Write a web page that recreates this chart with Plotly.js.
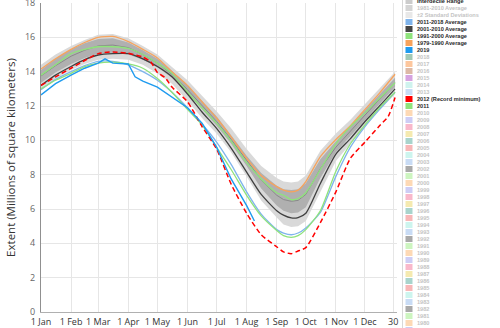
<!DOCTYPE html>
<html><head><meta charset="utf-8">
<script src="https://cdn.plot.ly/plotly-3.0.1.min.js"></script>
<style>html,body{margin:0;padding:0;background:#fff}#chart{width:500px;height:328px}</style>
</head><body><div id="chart"></div>
<script>
// Day of year sample points
const days = [0,15,31,45,59,74,90,105,120,135,151,166,181,196,212,227,243,250,258,265,273,288,304,319,334,349,365];
// Gray bands (1981-2010)
const idrHigh = [14.4,15.0,15.5,15.85,16.15,16.2,15.95,15.5,15.0,14.3,13.5,12.6,11.7,10.7,9.5,8.5,7.8,7.6,7.55,7.6,7.95,9.4,10.4,11.2,12.1,13.0,14.0];
const idrLow  = [13.0,13.6,14.1,14.45,14.7,14.75,14.7,14.4,13.9,13.3,12.3,11.3,10.4,9.3,7.9,6.5,5.5,5.1,4.95,5.0,5.3,7.0,8.8,9.8,10.8,11.75,12.7];
const iqrHigh = [14.1,14.75,15.3,15.65,15.9,15.95,15.7,15.25,14.75,14.05,13.2,12.3,11.4,10.3,9.1,8.1,7.35,7.15,7.1,7.15,7.5,8.9,9.95,10.85,11.75,12.65,13.65];
const iqrLow  = [13.35,13.95,14.45,14.8,15.05,15.1,15.0,14.7,14.25,13.65,12.75,11.8,10.85,9.8,8.5,7.2,6.2,5.9,5.75,5.8,6.1,7.8,9.3,10.25,11.2,12.15,13.1];
const median  = [13.75,14.35,14.9,15.25,15.5,15.55,15.4,15.0,14.5,13.85,12.95,12.05,11.1,10.05,8.8,7.7,6.8,6.55,6.45,6.5,6.85,8.35,9.6,10.55,11.45,12.4,13.35];
// Decadal averages
const avg1979_1990 = [14.15,14.75,15.3,15.7,16.0,16.05,15.75,15.3,14.8,14.0,13.2,12.25,11.3,10.2,8.95,7.95,7.3,7.1,7.0,7.1,7.6,9.05,10.05,10.85,11.8,12.75,13.85];
const avg1991_2000 = [13.8,14.4,15.05,15.3,15.45,15.45,15.35,15.0,14.5,13.9,12.8,11.9,11.0,9.95,8.7,7.75,6.95,6.8,6.55,6.6,6.95,8.3,9.8,10.8,11.6,12.45,13.35];
const avg2001_2010 = [13.2,13.8,14.3,14.7,14.97,15.05,15.05,14.75,14.3,13.7,12.7,11.65,10.7,9.55,8.15,6.85,5.9,5.64,5.48,5.5,5.75,7.49,9.2,10.1,11.1,12.0,13.0];
const avg2011_2018 = [12.95,13.55,14.0,14.35,14.6,14.6,14.4,14.0,13.5,12.8,11.9,10.95,9.9,8.6,7.0,5.7,4.8,4.6,4.5,4.6,4.9,5.8,7.9,9.6,10.8,11.8,12.8];
// Individual years
const y2011 = [13.0,13.5,13.9,14.3,14.5,14.55,14.45,14.2,13.6,12.8,11.8,10.9,9.6,8.3,6.8,5.6,4.75,4.45,4.35,4.45,4.8,5.9,8.2,9.8,10.9,11.9,12.8];
const days2012 = [0,15,31,45,59,74,90,105,113,120,128,135,151,166,181,196,212,227,243,250,258,265,273,288,304,319,334,349,358,365];
const y2012 = [13.2,13.7,14.2,14.65,15.05,15.15,15.07,14.85,14.58,13.95,13.65,13.1,12.25,10.8,9.5,7.45,5.75,4.5,3.8,3.5,3.4,3.55,3.75,5.2,7.0,8.96,9.9,10.85,11.4,12.5];
const days2019 = [0,15,31,45,59,66,74,90,97,105,120,135,151,166,181,196,205,212,220];
const y2019 = [12.64,13.3,13.8,14.2,14.5,14.75,14.5,14.45,13.7,13.45,13.1,12.5,11.9,11.0,9.6,7.75,6.85,6.2,5.3];
// Axis ticks
const tickDays = [0,31,59,90,120,151,181,212,243,273,304,334,363];
const tickLabels = ['1 Jan','1 Feb','1 Mar','1 Apr','1 May','1 Jun','1 Jul','1 Aug','1 Sep','1 Oct','1 Nov','1 Dec','30'];
// Legend
const legendNames = ['Median','Interquartile Range','Interdecile Range','1981-2010 Average','±2 Standard Deviations','2011-2018 Average','2001-2010 Average','1991-2000 Average','1979-1990 Average','2019','2018','2017','2016','2015','2014','2013','2012 (Record minimum)','2011','2010','2009','2008','2007','2006','2005','2004','2003','2002','2001','2000','1999','1998','1997','1996','1995','1994','1993','1992','1991','1990','1989','1988','1987','1986','1985','1984','1983','1982','1981','1980','1979'];
const legendShown = ['Median','Interquartile Range','Interdecile Range','2011-2018 Average','2001-2010 Average','1991-2000 Average','1979-1990 Average','2019','2012 (Record minimum)','2011'];
const specialColors = {'Median':'#888888','Interquartile Range':'#b0b0b0','Interdecile Range':'#cccccc','1981-2010 Average':'#d4d4d4','±2 Standard Deviations':'#e8e8e8','2011-2018 Average':'#7fb4ec','2001-2010 Average':'#444444','1991-2000 Average':'#8fe37c','1979-1990 Average':'#f7a35c','2019':'#1f9bef','2018':'#a3c9b5','2017':'#fdc79e','2016':'#ddb9a6','2015':'#d6a3e0','2014':'#cff3ee','2013':'#c9dcf5','2012 (Record minimum)':'#ff0000','2011':'#8fe37c'};
const cycleColors = ['#fdd9b5','#cdcdf5','#f9b8cb','#f5eab0','#a9d4cc','#f8b7b7','#cdf5ee','#c9dcf5','#a9a9a9','#cdf5c0'];

const traces = [
  {x:days,y:idrLow,mode:'lines',line:{width:0},hoverinfo:'skip'},
  {x:days,y:idrHigh,mode:'lines',line:{width:0},fill:'tonexty',fillcolor:'#d9d9d9',hoverinfo:'skip'},
  {x:days,y:iqrLow,mode:'lines',line:{width:0},hoverinfo:'skip'},
  {x:days,y:iqrHigh,mode:'lines',line:{width:0},fill:'tonexty',fillcolor:'#b0b0b0',hoverinfo:'skip'},
  {x:days,y:median,mode:'lines',line:{color:'#8a8a8a',width:1}},
  {x:days,y:avg1979_1990,mode:'lines',line:{color:'#f7a35c',width:1.3,shape:'spline',smoothing:0.6}},
  {x:days,y:avg1991_2000,mode:'lines',line:{color:'#8fe37c',width:1.3,shape:'spline',smoothing:0.6}},
  {x:days,y:avg2001_2010,mode:'lines',line:{color:'#404040',width:1.3,shape:'spline',smoothing:0.6}},
  {x:days,y:avg2011_2018,mode:'lines',line:{color:'#7fb4ec',width:1.3,shape:'spline',smoothing:0.6}},
  {x:days,y:y2011,mode:'lines',line:{color:'#8fe37c',width:1.3,shape:'spline',smoothing:0.6}},
  {x:days2012,y:y2012,mode:'lines',line:{color:'#ff0000',width:1.5,dash:'5px,3px',shape:'spline',smoothing:0.6}},
  {x:days2019,y:y2019,mode:'lines',line:{color:'#1f9bef',width:1.4}}
];

// plot geometry in px (for the hand-drawn legend)
const W=500,H=328,ml=41,mr=103,mt=3,mb=16;
const pw=W-ml-mr, ph=H-mt-mb;
const px2x = p => (p-ml)/pw;
const px2y = p => (H-mb-p)/ph;
const annotations=[], shapes=[];
legendNames.forEach((n,i)=>{
  const cy = 1 + 7*(i-2);
  let col = specialColors[n];
  if(!col){ const yr=parseInt(n); col = cycleColors[((2010-yr)%10+10)%10]; }
  shapes.push({type:'rect',xref:'paper',yref:'paper',x0:px2x(405.5),x1:px2x(412.5),y0:px2y(cy+3),y1:px2y(cy-3),fillcolor:col,line:{width:0}});
  const shown = legendShown.includes(n);
  annotations.push({xref:'paper',yref:'paper',x:px2x(415.5),y:px2y(cy),xanchor:'left',yanchor:'middle',showarrow:false,text:n,
    borderpad:0,font:{family:'Liberation Sans, Arial, sans-serif',size:5.6,color:shown?'#2a2a2a':'#c4c4c4',weight:'bold'}});
});
shapes.push({type:'line',xref:'paper',yref:'paper',x0:px2x(402.5),x1:px2x(402.5),y0:px2y(H),y1:px2y(0),line:{color:'#d8d8d8',width:1}});

const layout = {
  width:W,height:H,
  margin:{l:ml,r:mr,t:mt,b:mb,autoexpand:false},
  paper_bgcolor:'#ffffff',plot_bgcolor:'#ffffff',
  showlegend:false,
  font:{family:'Open Sans, Arial, sans-serif'},
  xaxis:{range:[0,367],tickvals:tickDays,ticktext:tickLabels,showgrid:true,gridcolor:'#e6e6e6',gridwidth:1,
    zeroline:false,showline:true,linecolor:'#b0b0b0',linewidth:1,ticks:'',tickfont:{size:9,color:'#333'},automargin:false,ticklabeloverflow:'allow',ticklabelstandoff:1},
  yaxis:{range:[0,18],dtick:2,showgrid:true,gridcolor:'#e6e6e6',zeroline:false,showline:true,linecolor:'#909090',linewidth:1,
    ticks:'',tickfont:{size:9,color:'#666'},automargin:false,ticklabeloverflow:'allow',ticklabelstandoff:3,
    title:{text:'Extent (Millions of square kilometers)',font:{size:11.5,color:'#333'},standoff:6}},
  annotations, shapes
};
Plotly.newPlot('chart',traces,layout,{displayModeBar:false,staticPlot:true});
</script>
</body></html>
